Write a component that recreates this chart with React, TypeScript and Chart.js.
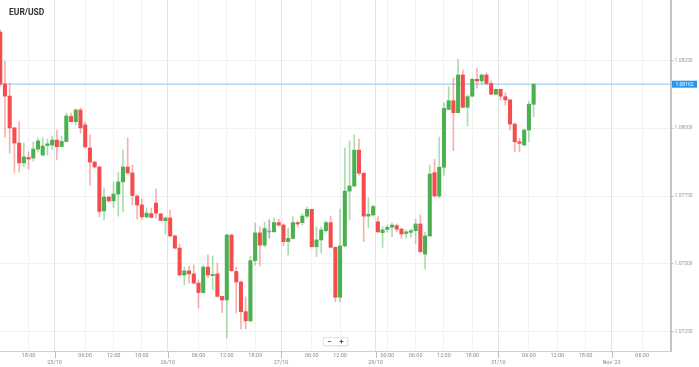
import React, { useEffect, useRef } from 'react';
import { Chart, registerables } from 'chart.js';

Chart.register(...registerables);

// EUR/USD hourly candles, 24/10 12:00 -> 31/10 07:00 (weekend gap removed)
const opens = [
  1.08354, 1.08163, 1.08118, 1.08001, 1.07945, 1.07872, 1.07892, 1.07890, 1.07923, 1.07901,
  1.07936, 1.07938, 1.07956, 1.07932, 1.07951, 1.08043, 1.08024, 1.08067, 1.08012, 1.07927,
  1.07875, 1.07857, 1.07695, 1.07746, 1.07732, 1.07757, 1.07802, 1.07857, 1.07835, 1.07750,
  1.07717, 1.07673, 1.07685, 1.07724, 1.07684, 1.07659, 1.07669, 1.07603, 1.07558, 1.07459,
  1.07474, 1.07463, 1.07429, 1.07394, 1.07488, 1.07457, 1.07463, 1.07380, 1.07367, 1.07606,
  1.07472, 1.07433, 1.07324, 1.07290, 1.07512, 1.07614, 1.07569, 1.07618, 1.07618, 1.07652,
  1.07643, 1.07582, 1.07594, 1.07652, 1.07652, 1.07676, 1.07701, 1.07563, 1.07588, 1.07622,
  1.07652, 1.07561, 1.07377, 1.07566, 1.07768, 1.07787, 1.07919, 1.07834, 1.07676, 1.07680,
  1.07655, 1.07615, 1.07627, 1.07635, 1.07641, 1.07628, 1.07612, 1.07616, 1.07622, 1.07647,
  1.07536, 1.07603, 1.07836, 1.07750, 1.07856, 1.08069, 1.08101, 1.08057, 1.08196, 1.08077,
  1.08118, 1.08180, 1.08174, 1.08196, 1.08165, 1.08125, 1.08143, 1.08116, 1.08104, 1.08015,
  1.07950, 1.07938, 1.07993, 1.08088,
];
const highs = [
  1.08362, 1.08247, 1.08166, 1.08004, 1.08023, 1.07945, 1.07912, 1.07949, 1.07964, 1.07964,
  1.07960, 1.07971, 1.07993, 1.07971, 1.08056, 1.08056, 1.08071, 1.08074, 1.08023, 1.07975,
  1.07879, 1.07860, 1.07779, 1.07750, 1.07802, 1.07838, 1.07919, 1.07964, 1.07864, 1.07754,
  1.07739, 1.07706, 1.07706, 1.07776, 1.07687, 1.07673, 1.07698, 1.07606, 1.07573, 1.07488,
  1.07492, 1.07496, 1.07440, 1.07496, 1.07533, 1.07529, 1.07503, 1.07381, 1.07610, 1.07610,
  1.07488, 1.07437, 1.07378, 1.07529, 1.07650, 1.07636, 1.07654, 1.07662, 1.07669, 1.07665,
  1.07647, 1.07632, 1.07674, 1.07658, 1.07684, 1.07709, 1.07702, 1.07636, 1.07636, 1.07658,
  1.07676, 1.07562, 1.07702, 1.07927, 1.07953, 1.07975, 1.07960, 1.07835, 1.07743, 1.07717,
  1.07674, 1.07637, 1.07643, 1.07650, 1.07647, 1.07632, 1.07625, 1.07628, 1.07665, 1.07680,
  1.07617, 1.07864, 1.07885, 1.07967, 1.08093, 1.08153, 1.08184, 1.08254, 1.08214, 1.08122,
  1.08185, 1.08221, 1.08200, 1.08204, 1.08174, 1.08144, 1.08144, 1.08130, 1.08107, 1.08019,
  1.07963, 1.07997, 1.08097, 1.08163,
];
const lows = [
  1.08155, 1.07967, 1.07908, 1.07835, 1.07838, 1.07857, 1.07849, 1.07879, 1.07912, 1.07897,
  1.07901, 1.07923, 1.07883, 1.07931, 1.07949, 1.08023, 1.08012, 1.07982, 1.07927, 1.07790,
  1.07853, 1.07673, 1.07662, 1.07728, 1.07706, 1.07676, 1.07691, 1.07831, 1.07717, 1.07665,
  1.07665, 1.07669, 1.07669, 1.07669, 1.07658, 1.07610, 1.07599, 1.07555, 1.07455, 1.07422,
  1.07429, 1.07426, 1.07337, 1.07392, 1.07448, 1.07407, 1.07378, 1.07320, 1.07227, 1.07470,
  1.07319, 1.07260, 1.07260, 1.07286, 1.07496, 1.07492, 1.07562, 1.07595, 1.07617, 1.07639,
  1.07566, 1.07533, 1.07591, 1.07636, 1.07643, 1.07669, 1.07562, 1.07526, 1.07540, 1.07617,
  1.07558, 1.07360, 1.07360, 1.07562, 1.07662, 1.07783, 1.07827, 1.07582, 1.07632, 1.07676,
  1.07614, 1.07561, 1.07617, 1.07600, 1.07618, 1.07594, 1.07595, 1.07598, 1.07573, 1.07540,
  1.07480, 1.07599, 1.07746, 1.07743, 1.07827, 1.08067, 1.07917, 1.08056, 1.08074, 1.08008,
  1.08115, 1.08147, 1.08163, 1.08159, 1.08122, 1.08122, 1.08104, 1.08085, 1.07993, 1.07913,
  1.07913, 1.07934, 1.07950, 1.08042,
];
const closes = [
  1.08163, 1.08118, 1.08001, 1.07945, 1.07872, 1.07894, 1.07886, 1.07923, 1.07953, 1.07934,
  1.07942, 1.07956, 1.07932, 1.07951, 1.08045, 1.08024, 1.08067, 1.08001, 1.07931, 1.07875,
  1.07857, 1.07693, 1.07746, 1.07732, 1.07757, 1.07802, 1.07857, 1.07835, 1.07752, 1.07717,
  1.07673, 1.07687, 1.07671, 1.07687, 1.07660, 1.07669, 1.07603, 1.07558, 1.07459, 1.07474,
  1.07463, 1.07429, 1.07394, 1.07488, 1.07459, 1.07461, 1.07380, 1.07367, 1.07606, 1.07475,
  1.07433, 1.07324, 1.07290, 1.07512, 1.07614, 1.07569, 1.07630, 1.07618, 1.07652, 1.07643,
  1.07582, 1.07594, 1.07652, 1.07647, 1.07676, 1.07701, 1.07563, 1.07588, 1.07625, 1.07652,
  1.07561, 1.07377, 1.07566, 1.07768, 1.07787, 1.07919, 1.07834, 1.07676, 1.07683, 1.07711,
  1.07618, 1.07625, 1.07635, 1.07643, 1.07628, 1.07610, 1.07618, 1.07622, 1.07647, 1.07545,
  1.07603, 1.07831, 1.07750, 1.07856, 1.08073, 1.08101, 1.08057, 1.08196, 1.08077, 1.08116,
  1.08180, 1.08174, 1.08196, 1.08165, 1.08125, 1.08143, 1.08118, 1.08104, 1.08015, 1.07950,
  1.07944, 1.07993, 1.08088, 1.08162,
];

// x ticks: candle index (hours), date ticks sit between candles
const xTickPos = [6, 11.5, 18, 24, 30, 35.5, 42, 48, 54, 59.5, 66, 72, 79.5, 82, 88, 94, 100, 105.5, 112, 118, 124, 129.5, 136];
const xTickText = ['18:00', '25/10', '06:00', '12:00', '18:00', '26/10', '06:00', '12:00', '18:00', '27/10', '06:00', '12:00', '29/10', '00:00', '06:00', '12:00', '18:00', '31/10', '06:00', '12:00', '18:00', "Nov '23", '06:00'];
const yTicks = [1.0725, 1.075, 1.0775, 1.08, 1.0825];
const title = 'EUR/USD';

const UP = '#4caf50';
const DOWN = '#f44d4d';
const FLAT = '#9e9e9e';
const UP_WICK = 'rgba(76,175,80,0.45)';
const DOWN_WICK = 'rgba(244,77,77,0.45)';
const FLAT_WICK = 'rgba(120,120,120,0.6)';

const isDateTick = (i: number) => xTickText[i] !== undefined && xTickText[i].indexOf(':') < 0;

export default function App() {
  const ref = useRef<HTMLCanvasElement | null>(null);

  useEffect(() => {
    document.body.style.margin = '0';
    const canvas = ref.current;
    if (!canvas) return;
    const lastPrice = closes[closes.length - 1];
    const dir = (i: number) => (closes[i] > opens[i] ? 1 : closes[i] < opens[i] ? -1 : 0);

    const overlay = {
      id: 'overlay',
      beforeDatasetsDraw(chart: any) {
        const { ctx, chartArea, scales } = chart;
        const y = scales.y.getPixelForValue(lastPrice);
        ctx.save();
        ctx.strokeStyle = '#9fd0f7';
        ctx.lineWidth = 1.2;
        ctx.beginPath();
        ctx.moveTo(chartArea.left, y);
        ctx.lineTo(chartArea.right, y);
        ctx.stroke();
        ctx.restore();
      },
      afterDraw(chart: any) {
        const { ctx, chartArea, scales } = chart;
        ctx.save();
        // date tick marks
        ctx.strokeStyle = '#bdbdbd';
        ctx.lineWidth = 1;
        xTickPos.forEach((v, i) => {
          if (!isDateTick(i)) return;
          const x = Math.round(scales.x.getPixelForValue(v)) + 0.5;
          ctx.beginPath();
          ctx.moveTo(x, chartArea.bottom);
          ctx.lineTo(x, chartArea.bottom + 7);
          ctx.stroke();
        });
        // price label
        const y = scales.y.getPixelForValue(lastPrice);
        ctx.fillStyle = '#2196f3';
        ctx.fillRect(chartArea.right + 1, y - 3.5, 25, 7);
        ctx.fillStyle = '#ffffff';
        ctx.font = '5px Roboto';
        ctx.textAlign = 'center';
        ctx.textBaseline = 'middle';
        ctx.fillText(lastPrice.toFixed(5), chartArea.right + 13.5, y + 0.3);
        // title
        ctx.fillStyle = '#333333';
        ctx.font = 'bold 8.5px Roboto';
        ctx.textAlign = 'left';
        ctx.fillText(title, 9, 13);
        // zoom buttons
        const bx = 323.5, by = 337.5, bw = 24, bh = 8;
        ctx.shadowColor = 'rgba(0,0,0,0.15)';
        ctx.shadowBlur = 2;
        ctx.fillStyle = '#ffffff';
        ctx.fillRect(bx, by, bw, bh);
        ctx.shadowBlur = 0;
        ctx.strokeStyle = '#e3e3e3';
        ctx.strokeRect(bx, by, bw, bh);
        ctx.fillStyle = '#555555';
        ctx.font = 'bold 8px Roboto';
        ctx.textAlign = 'center';
        ctx.fillText('\u2212', bx + 6, by + bh / 2 + 0.5);
        ctx.fillText('+', bx + 18, by + bh / 2 + 0.5);
        ctx.restore();
      },
    };

    const chart = new Chart(canvas, {
      type: 'bar',
      data: {
        datasets: [
          {
            label: 'body',
            data: opens.map((o, i) => ({ x: i, y: [o, closes[i]] })) as any,
            backgroundColor: opens.map((_, i) => (dir(i) > 0 ? UP : dir(i) < 0 ? DOWN : FLAT)),
            barThickness: 3.4,
            minBarLength: 1,
            borderWidth: 0,
            grouped: false,
            order: 0,
          } as any,
          {
            label: 'wick',
            data: lows.map((l, i) => ({ x: i, y: [l, highs[i]] })) as any,
            backgroundColor: opens.map((_, i) => (dir(i) > 0 ? UP_WICK : dir(i) < 0 ? DOWN_WICK : FLAT_WICK)),
            barThickness: 1,
            borderWidth: 0,
            grouped: false,
            order: 1,
          } as any,
        ],
      },
      options: {
        animation: false,
        responsive: true,
        maintainAspectRatio: false,
        layout: { padding: 0 },
        plugins: { legend: { display: false }, tooltip: { enabled: false } },
        scales: {
          x: {
            type: 'linear',
            min: -0.05,
            max: 142.1,
            offset: false,
            afterBuildTicks: (s: any) => {
              s.ticks = xTickPos.map((v) => ({ value: v }));
            },
            afterFit: (s: any) => {
              s.height = 16;
              s.paddingLeft = 0;
              s.paddingRight = 0;
              s.paddingTop = 0;
              s.paddingBottom = 0;
            },
            ticks: {
              autoSkip: false,
              maxRotation: 0,
              minRotation: 0,
              padding: 1.5,
              color: '#8a8a8a',
              font: { family: 'Roboto', size: 5.5, lineHeight: '7px' } as any,
              callback: (_v: any, i: number) => (isDateTick(i) ? ['', xTickText[i]] : xTickText[i]),
            },
            grid: {
              offset: false,
              drawTicks: false,
              color: (c: any) => (isDateTick(c.index) ? '#e3e3e3' : '#f2f2f2'),
            },
            border: { color: '#d0d0d0', width: 1 },
          } as any,
          y: {
            type: 'linear',
            position: 'right',
            min: 1.071789,
            max: 1.084722,
            afterBuildTicks: (s: any) => {
              s.ticks = yTicks.map((v) => ({ value: v }));
            },
            afterFit: (s: any) => {
              s.width = 28;
              s.paddingLeft = 0;
              s.paddingRight = 0;
              s.paddingTop = 0;
              s.paddingBottom = 0;
            },
            ticks: {
              padding: 0.5,
              color: '#9a9a9a',
              font: { family: 'Roboto', size: 5 },
              callback: (v: any) => Number(v).toFixed(5),
            },
            grid: { color: '#f1f1f1', tickLength: 3, tickColor: '#cccccc' },
            border: { color: '#c4c4c4', width: 2 },
          } as any,
        },
      },
      plugins: [overlay],
    });

    return () => chart.destroy();
  }, []);

  return (
    <div style={{ position: 'relative', width: 699, height: 367, background: '#ffffff' }}>
      <canvas ref={ref} />
    </div>
  );
}
